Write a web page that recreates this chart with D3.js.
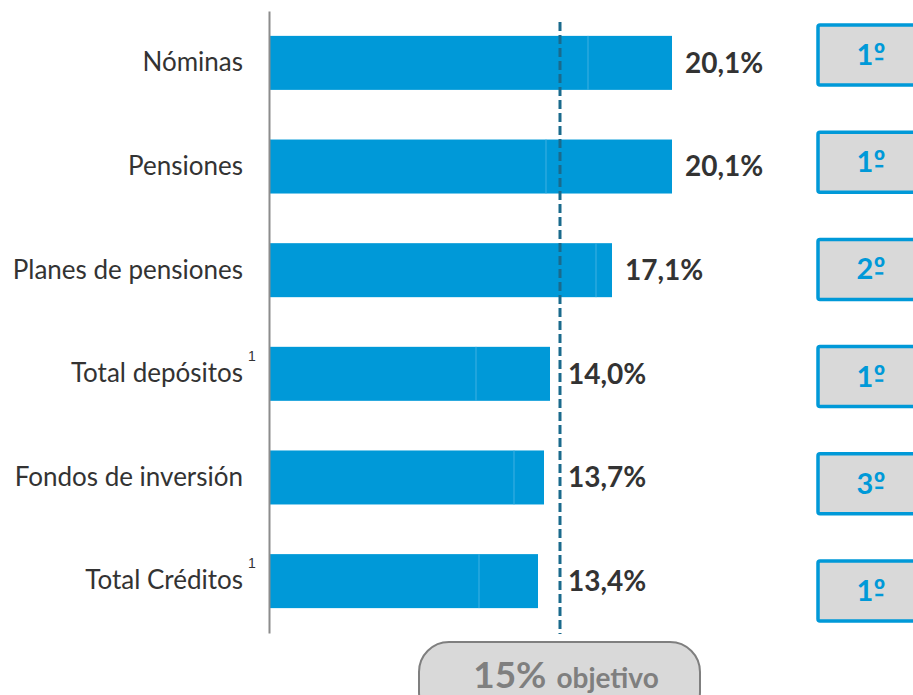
<!DOCTYPE html>
<html lang="es">
<head>
<meta charset="utf-8" />
<title>Cuota de mercado</title>
<style>
html, body {
	margin: 0;
	padding: 0;
	background: #fff;
}
svg {
	display: block;
	font-family: Lato, "Open Sans", sans-serif;
}
</style>
</head>
<body>
<svg width="913" height="695"></svg>

<script src="https://cdn.jsdelivr.net/npm/d3@7"></script>
<script>
// datos
var categorias = ["Nóminas", "Pensiones", "Planes de pensiones", "Total depósitos", "Fondos de inversión", "Total Créditos"];
var notas = ["", "", "", "1", "", "1"];
var valores = [20.1, 20.1, 17.1, 14.0, 13.7, 13.4];
var tramo1 = [15.9, 13.8, 16.3, 10.3, 12.2, 10.45]; // primer tramo visible dentro de la barra
var etiquetas = ["20,1%", "20,1%", "17,1%", "14,0%", "13,7%", "13,4%"];
var puestos = ["1", "1", "2", "1", "3", "1"];
var objetivoLinea = 14.5;
var objetivoTexto = ["15%", "objetivo"];

var azul = "#0099d8";
var svg = d3.select("svg");

var x = d3.scaleLinear().domain([0, 20.1]).range([270, 672]);
var y = d3.scaleBand().domain(categorias).range([11, 633])
	.paddingInner(0.479).paddingOuter(0.24);
var yCaja = d3.scalePoint().domain(categorias).range([55, 591]);

// barras (dos tramos)
var g = svg.append("g");
g.selectAll("rect.b")
	.data(categorias)
	.enter()
	.append("rect")
	.attr("class", "b")
	.attr("x", x(0))
	.attr("y", function(d){ return y(d); })
	.attr("width", function(d, i){ return x(valores[i]) - x(0); })
	.attr("height", y.bandwidth())
	.attr("fill", azul);

g.selectAll("line.s")
	.data(categorias)
	.enter()
	.append("line")
	.attr("x1", function(d, i){ return x(tramo1[i]); })
	.attr("x2", function(d, i){ return x(tramo1[i]); })
	.attr("y1", function(d){ return y(d); })
	.attr("y2", function(d){ return y(d) + y.bandwidth(); })
	.attr("stroke", "#3fb0e2")
	.attr("stroke-width", 1);

// eje
var eje = svg.append("g")
	.attr("transform", "translate(269,0)")
	.call(d3.axisLeft(y).tickSize(0).tickPadding(26));
eje.select(".domain").attr("stroke", "#8c8c8c").attr("stroke-width", 2);
eje.selectAll(".tick text")
	.attr("font-size", 26)
	.attr("fill", "#333")
	.attr("font-family", "Lato, sans-serif");
eje.selectAll(".tick")
	.filter(function(d, i){ return notas[i] !== ""; })
	.append("text")
	.attr("x", -21)
	.attr("y", -13)
	.attr("text-anchor", "start")
	.attr("font-size", 14)
	.attr("fill", "#333")
	.text(function(d){ return notas[categorias.indexOf(d)]; });

// línea objetivo
svg.append("line")
	.attr("x1", x(objetivoLinea))
	.attr("x2", x(objetivoLinea))
	.attr("y1", 22)
	.attr("y2", 634)
	.attr("stroke", "#1a6a8c")
	.attr("stroke-width", 3)
	.attr("stroke-dasharray", "9,4");

// etiquetas de valor
svg.selectAll("text.v")
	.data(categorias)
	.enter()
	.append("text")
	.attr("class", "v")
	.attr("x", function(d, i){ return Math.max(x(valores[i]) + 13, x(objetivoLinea) + 8); })
	.attr("y", function(d){ return y(d) + y.bandwidth() / 2; })
	.attr("dy", "0.35em")
	.attr("font-size", 28)
	.attr("font-weight", "bold")
	.attr("fill", "#333")
	.text(function(d, i){ return etiquetas[i]; });

// cajas de posición
var cajas = svg.selectAll("g.c")
	.data(categorias)
	.enter()
	.append("g")
	.attr("class", "c")
	.attr("transform", function(d){ return "translate(0," + yCaja(d) + ")"; });
cajas.append("rect")
	.attr("x", 818)
	.attr("y", -30)
	.attr("width", 108)
	.attr("height", 60)
	.attr("fill", "#d9d9d9")
	.attr("stroke", azul)
	.attr("stroke-width", 3.5)
	.attr("rx", 2);
var tc = cajas.append("text")
	.attr("x", 871)
	.attr("y", 10)
	.attr("text-anchor", "middle")
	.attr("font-weight", "bold")
	.attr("font-size", 29)
	.attr("fill", azul);
tc.append("tspan")
	.text(function(d, i){ return puestos[i]; });
tc.append("tspan")
	.attr("font-size", 30)
	.text("º");
// subrayado del ordinal
tc.each(function(){
	var e = this.getExtentOfChar(1);
	d3.select(this.parentNode).append("line")
		.attr("x1", e.x + 2)
		.attr("x2", e.x + e.width - 2)
		.attr("y1", 4)
		.attr("y2", 4)
		.attr("stroke", azul)
		.attr("stroke-width", 2.5);
});

// objetivo
svg.append("rect")
	.attr("x", 419)
	.attr("y", 642)
	.attr("width", 281)
	.attr("height", 80)
	.attr("rx", 30)
	.attr("fill", "#d9d9d9")
	.attr("stroke", "#7f7f7f")
	.attr("stroke-width", 2);
var t = svg.append("text")
	.attr("x", 566)
	.attr("y", 688)
	.attr("text-anchor", "middle")
	.attr("font-weight", "bold")
	.attr("fill", "#7f7f7f");
t.append("tspan").attr("font-size", 37).text(objetivoTexto[0]);
t.append("tspan").attr("font-size", 28).attr("dx", 10).text(objetivoTexto[1]);
</script>
</body>
</html>
